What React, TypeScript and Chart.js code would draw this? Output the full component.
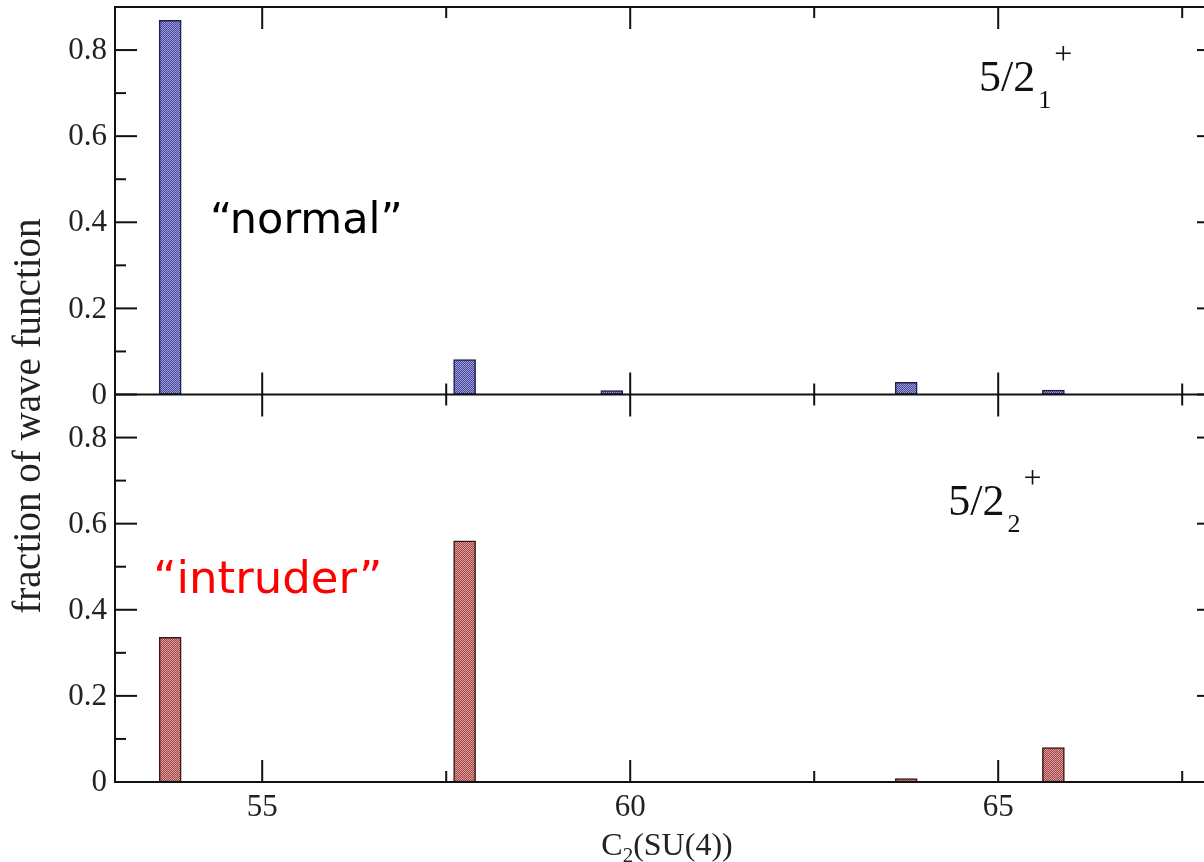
import React, { useEffect, useRef } from 'react';
import { Chart, registerables } from 'chart.js';

Chart.register(...registerables);

// ---- data ----
const xPositions = [53.75, 57.75, 59.75, 63.75, 65.75];
const normalFractions = [0.869, 0.081, 0.009, 0.028, 0.01];
const intruderFractions = [0.336, 0.56, 0, 0.008, 0.08];

const xMajorTicks = [55, 60, 65];
const xMajorLabels = ['55', '60', '65'];
const xMinorTicks = [57.5, 62.5, 67.5];
const yMajorTicks = [0, 0.2, 0.4, 0.6, 0.8];
const yMajorLabels = ['0', '0.2', '0.4', '0.6', '0.8'];
const yMinorTicks = [0.1, 0.3, 0.5, 0.7];

const X_MIN = 53;
const X_MAX = 68;
const Y_MAX = 0.9;

const yAxisTitle = 'fraction of wave function';
const xAxisTitleMain = 'C';
const xAxisTitleSub = '2';
const xAxisTitleRest = '(SU(4))';

const normalNote = '\u201Cnormal\u201D';
const intruderNote = '\u201Cintruder\u201D';
const normalNoteAt = [54.29, 0.376];
const intruderNoteAt = [53.52, 0.439];
const state1At = [64.74, 0.705];
const state2At = [64.32, 0.62];

function makePattern(light: string, dark: string): CanvasPattern | string {
  const c = document.createElement('canvas');
  c.width = 2;
  c.height = 2;
  const g = c.getContext('2d');
  if (!g) return light;
  g.fillStyle = light;
  g.fillRect(0, 0, 2, 2);
  g.fillStyle = dark;
  g.fillRect(1, 0, 1, 1);
  g.fillRect(0, 1, 1, 1);
  const p = g.createPattern(c, 'repeat');
  return p || light;
}

const overlayPlugin = {
  id: 'overlay',
  afterDatasetsDraw(chart: any) {
    const { ctx, chartArea: a, scales } = chart;
    const xs = scales.x;
    const yT = scales.yTop;
    const yB = scales.yBot;
    const line = (x1: number, y1: number, x2: number, y2: number) => {
      ctx.beginPath();
      ctx.moveTo(x1, y1);
      ctx.lineTo(x2, y2);
      ctx.stroke();
    };
    ctx.save();
    ctx.strokeStyle = '#111';
    ctx.lineWidth = 2;
    ctx.strokeRect(a.left, a.top, a.right - a.left, a.bottom - a.top);
    const mid = yT.getPixelForValue(0);
    line(a.left, mid, a.right, mid);

    const MAJ = 22;
    const MIN = 11;
    const panels = [
      { s: yT, top: yT.getPixelForValue(Y_MAX), bottom: yT.getPixelForValue(0) },
      { s: yB, top: yB.getPixelForValue(Y_MAX), bottom: yB.getPixelForValue(0) },
    ];
    for (const p of panels) {
      for (const v of xMajorTicks) {
        const px = xs.getPixelForValue(v);
        line(px, p.top, px, p.top + MAJ);
        line(px, p.bottom, px, p.bottom - MAJ);
      }
      for (const v of xMinorTicks) {
        const px = xs.getPixelForValue(v);
        line(px, p.top, px, p.top + MIN);
        line(px, p.bottom, px, p.bottom - MIN);
      }
      for (const v of yMajorTicks) {
        const py = p.s.getPixelForValue(v);
        line(a.left, py, a.left + MAJ, py);
        line(a.right, py, a.right - MAJ, py);
      }
      for (const v of yMinorTicks) {
        const py = p.s.getPixelForValue(v);
        line(a.left, py, a.left + MIN, py);
        line(a.right, py, a.right - MIN, py);
      }
    }

    // tick labels
    ctx.fillStyle = '#222';
    ctx.font = '31px "Liberation Serif"';
    ctx.textAlign = 'right';
    ctx.textBaseline = 'middle';
    for (const p of panels) {
      yMajorTicks.forEach((v, i) => {
        ctx.fillText(yMajorLabels[i], a.left - 8, p.s.getPixelForValue(v) + 1);
      });
    }
    ctx.textAlign = 'center';
    ctx.textBaseline = 'alphabetic';
    xMajorTicks.forEach((v, i) => {
      ctx.fillText(xMajorLabels[i], xs.getPixelForValue(v), a.bottom + 34);
    });

    // x title with subscript
    const big = '32px "Liberation Serif"';
    const small = '21px "Liberation Serif"';
    ctx.font = big;
    const wC = ctx.measureText(xAxisTitleMain).width;
    const wR = ctx.measureText(xAxisTitleRest).width;
    ctx.font = small;
    const wS = ctx.measureText(xAxisTitleSub).width;
    const total = wC + wS + wR;
    let tx = (a.left + a.right) / 2 - total / 2;
    const tb = a.bottom + 73;
    ctx.textAlign = 'left';
    ctx.font = big;
    ctx.fillText(xAxisTitleMain, tx, tb);
    tx += wC;
    ctx.font = small;
    ctx.fillText(xAxisTitleSub, tx, tb + 7);
    tx += wS;
    ctx.font = big;
    ctx.fillText(xAxisTitleRest, tx, tb);

    // y title
    ctx.save();
    ctx.translate(40, yB.getPixelForValue(0.85));
    ctx.rotate(-Math.PI / 2);
    ctx.textAlign = 'center';
    ctx.font = '39px "Liberation Serif"';
    ctx.fillText(yAxisTitle, 0, 0);
    ctx.restore();

    // notes
    ctx.textAlign = 'left';
    ctx.font = '43px "DejaVu Sans"';
    ctx.fillStyle = '#000';
    ctx.fillText(normalNote, xs.getPixelForValue(normalNoteAt[0]), yT.getPixelForValue(normalNoteAt[1]));
    ctx.fillStyle = '#ff0000';
    ctx.font = '45px "DejaVu Sans"';
    ctx.fillText(intruderNote, xs.getPixelForValue(intruderNoteAt[0]), yB.getPixelForValue(intruderNoteAt[1]));

    // state labels
    ctx.fillStyle = '#111';
    const drawState = (at: number[], s: any, sub: string) => {
      const bx = xs.getPixelForValue(at[0]);
      const by = s.getPixelForValue(at[1]);
      ctx.font = '44px "Liberation Serif"';
      ctx.fillText('5/2', bx, by);
      const w = ctx.measureText('5/2').width;
      ctx.font = '26px "Liberation Serif"';
      ctx.fillText(sub, bx + w + 3, by + 17);
      ctx.font = '32px "Liberation Serif"';
      ctx.fillText('+', bx + w + 19, by - 27);
    };
    drawState(state1At, yT, '1');
    drawState(state2At, yB, '2');
    ctx.restore();
  },
};

export default function App() {
  const ref = useRef<HTMLCanvasElement | null>(null);
  useEffect(() => {
    if (!ref.current) return;
    const topFill = makePattern('#9c9ce0', '#4a4a94');
    const botFill = makePattern('#e09898', '#9c4a4a');
    const chart = new Chart(ref.current, {
      type: 'bar',
      data: {
        datasets: [
          {
            label: '5/2_1+',
            data: xPositions.map((x, i) => ({ x, y: normalFractions[i] })),
            yAxisID: 'yTop',
            backgroundColor: topFill as any,
            borderColor: '#1c1c4a',
            borderWidth: 1.5,
            borderSkipped: false,
            grouped: false,
            barThickness: 22,
          },
          {
            label: '5/2_2+',
            data: xPositions.map((x, i) => ({ x, y: intruderFractions[i] })),
            yAxisID: 'yBot',
            backgroundColor: botFill as any,
            borderColor: '#3a1515',
            borderWidth: 1.5,
            borderSkipped: false,
            grouped: false,
            barThickness: 22,
          },
        ],
      },
      options: {
        responsive: false,
        animation: false,
        devicePixelRatio: 1,
        layout: { padding: { left: 115, top: 7, right: 21, bottom: 80 } },
        plugins: { legend: { display: false }, tooltip: { enabled: false } },
        scales: {
          x: { type: 'linear', min: X_MIN, max: X_MAX, offset: false, display: false },
          yTop: { type: 'linear', min: -Y_MAX, max: Y_MAX, display: false },
          yBot: { type: 'linear', min: 0, max: 2 * Y_MAX, display: false },
        },
      },
      plugins: [overlayPlugin],
    });
    return () => chart.destroy();
  }, []);
  return (
    <div
      style={{
        position: 'fixed',
        left: 0,
        top: 0,
        width: 1204,
        height: 862,
        overflow: 'hidden',
        background: '#fff',
      }}
    >
      <canvas ref={ref} width={1240} height={862} style={{ display: 'block' }} />
    </div>
  );
}
